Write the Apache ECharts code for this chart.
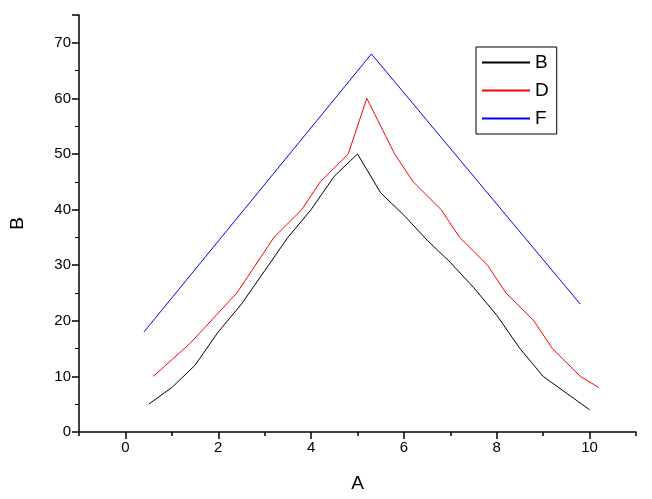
<!DOCTYPE html>
<html><head><meta charset="utf-8">
<script src="https://cdn.jsdelivr.net/npm/echarts@6/dist/echarts.min.js"></script>
<style>html,body{margin:0;padding:0;background:#fff}#c{width:652px;height:499px}</style>
</head><body><div id="c"></div>
<script>
// data
const seriesB = [[0.5,5],[1,8],[1.5,12],[2,18],[2.5,23],[3,29],[3.5,35],[4,40],[4.5,46],[5,50],[5.5,43],[6,39],[6.5,34.5],[7,30.5],[7.5,26],[8,21],[8.5,15],[9,10],[9.5,7],[10,4]];
const seriesD = [[0.6,10],[1.4,16],[2.4,25],[3.2,35],[3.8,40],[4.2,45],[4.8,50],[5.2,60],[5.8,50],[6.2,45],[6.8,40],[7.2,35],[7.8,30],[8.2,25],[8.8,20],[9.2,15],[9.8,10],[10.2,8]];
const seriesF = [[0.4,18],[5.3,68],[9.8,23]];
const xLabels = [0, 2, 4, 6, 8, 10];
const names = ['B', 'D', 'F'];
const colors = ['#000000', '#ff0000', '#0000ff'];

const chart = echarts.init(document.getElementById('c'));
const font = 'Arial, Liberation Sans';
chart.setOption({
    animation: false,
    grid: { left: 77, right: 16, top: 15, bottom: 67 },
    legend: {
        orient: 'vertical', left: 476, top: 47, width: 81,
        data: names, itemWidth: 48, itemHeight: 2, itemGap: 9,
        padding: [6, 8, 6, 6],
        borderColor: '#000', borderWidth: 1,
        textStyle: { fontSize: 19, color: '#000', fontFamily: font },
        icon: 'rect'
    },
    xAxis: {
        type: 'value', min: -1, max: 11, interval: 2, name: 'A',
        nameLocation: 'middle', nameGap: 42,
        nameTextStyle: { color: '#000', fontSize: 19, fontFamily: font },
        axisLine: { onZero: false, lineStyle: { color: '#000', width: 1.5 } },
        // ticks counted from -1 land on odd numbers: keep them short, and the minor ones (evens) long
        axisTick: { length: 4, lineStyle: { color: '#000', width: 1.5 } },
        minorTick: { show: true, splitNumber: 2, length: 7, lineStyle: { color: '#000', width: 1.5 } },
        splitLine: { show: false },
        axisLabel: { color: '#000', fontSize: 15, fontFamily: font, customValues: xLabels }
    },
    yAxis: {
        type: 'value', min: 0, max: 75, interval: 10, name: 'B',
        nameLocation: 'middle', nameGap: 52,
        nameTextStyle: { color: '#000', fontSize: 19, fontFamily: font },
        axisLine: { show: true, onZero: false, lineStyle: { color: '#000', width: 1.5 } },
        axisTick: { show: true, length: 7, lineStyle: { color: '#000', width: 1.5 } },
        minorTick: { show: true, splitNumber: 2, length: 4, lineStyle: { color: '#000' } },
        splitLine: { show: false },
        axisLabel: { color: '#000', fontSize: 15, fontFamily: font, formatter: v => v > 70 ? '' : v }
    },
    series: [seriesB, seriesD, seriesF].map((d, i) => ({
        name: names[i], type: 'line', data: d, showSymbol: false,
        lineStyle: { color: colors[i], width: 1 }, itemStyle: { color: colors[i] }
    }))
});
</script></body></html>
